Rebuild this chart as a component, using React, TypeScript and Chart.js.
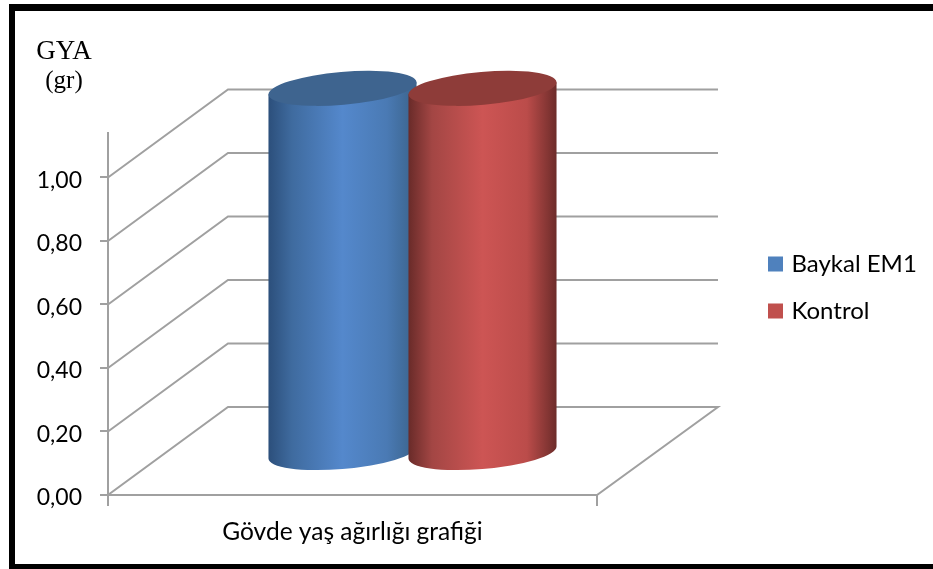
import React, { useEffect, useRef } from "react";
import { Chart, registerables } from "chart.js";

Chart.register(...registerables);

const categories = ["Gövde yaş ağırlığı grafiği"];
const seriesNames = ["Baykal EM1", "Kontrol"];
const baykalValues = [1.15];
const kontrolValues = [1.15];
const yTickValues = [0, 0.2, 0.4, 0.6, 0.8, 1.0];
const unitLines = ["GYA", "(gr)"];

const seriesFill = ["#4f81bd", "#c0504d"];
const seriesLid = ["#3e648f", "#8e3c39"];
const seriesShade = [
  ["#2c4f7b", "#3f6b9f", "#5488cc", "#4a7ab4", "#3a6289"],
  ["#692b29", "#a34644", "#cd5554", "#bb4c4a", "#6d2c2a"],
];
const shadeStops = [0, 0.16, 0.5, 0.8, 1];
const axisGrey = "#a0a0a0";

// Depth of the box the cylinders stand in: wall offset and cylinder-centre offset.
const WALL_DX = 120;
const WALL_DY = -88;
const BAR_DX = 60;
const BAR_DY = -41.5;

const boxPlugin = {
  id: "box3d",
  afterLayout(chart: any) {
    const lg = chart.legend;
    lg.left = 748.5;
    lg.right = 933;
    lg.top = 229;
    lg.bottom = 429;
    lg.width = 184.5;
    lg.height = 200;
  },
  beforeDatasetsDraw(chart: any) {
    const { ctx, scales } = chart;
    const { x, y } = scales;
    const left = x.left;
    const right = x.right;
    const floor = y.getPixelForValue(0);
    ctx.save();
    ctx.strokeStyle = axisGrey;
    ctx.lineWidth = 2;
    ctx.lineJoin = "miter";
    // Floor of the box
    ctx.beginPath();
    ctx.moveTo(left, floor);
    ctx.lineTo(right, floor);
    ctx.lineTo(right + WALL_DX + 1, floor + WALL_DY);
    ctx.lineTo(left + WALL_DX, floor + WALL_DY);
    ctx.closePath();
    ctx.stroke();
    // Side and back wall rules for every tick above the floor
    yTickValues.filter((v) => v > 0).forEach((v) => {
      const py = y.getPixelForValue(v);
      ctx.beginPath();
      ctx.moveTo(left, py);
      ctx.lineTo(left + WALL_DX, py + WALL_DY);
      ctx.lineTo(right + WALL_DX + 1, py + WALL_DY);
      ctx.stroke();
    });
    ctx.restore();
  },
  // The flat bars are replaced by the cylinders drawn below.
  beforeDatasetDraw() {
    return false;
  },
  afterDatasetsDraw(chart: any) {
    const { ctx } = chart;
    // Series order, so that each cylinder overlaps the one before it.
    chart.data.datasets.forEach((_: any, i: number) => {
      chart.getDatasetMeta(i).data.forEach((bar: any) => {
        const cx = bar.x + BAR_DX;
        const topY = bar.y + BAR_DY;
        const baseY = bar.base + BAR_DY;
        const halfW = bar.width / 2;
        const a = halfW * 1.004;
        const b = halfW * 0.222;
        const rot = (-4.9 * Math.PI) / 180;
        const tRight = Math.atan2(-b * Math.sin(rot), a * Math.cos(rot));
        const edgeX = a * Math.cos(tRight) * Math.cos(rot) - b * Math.sin(tRight) * Math.sin(rot);
        const edgeY = a * Math.cos(tRight) * Math.sin(rot) + b * Math.sin(tRight) * Math.cos(rot);

        const grad = ctx.createLinearGradient(cx - halfW, 0, cx + halfW, 0);
        seriesShade[i].forEach((c, k) => grad.addColorStop(shadeStops[k], c));

        ctx.save();
        ctx.beginPath();
        ctx.ellipse(cx, baseY, a, b, rot, tRight, tRight + Math.PI);
        ctx.lineTo(cx - edgeX, topY - edgeY);
        ctx.lineTo(cx + edgeX, topY + edgeY);
        ctx.closePath();
        ctx.fillStyle = grad;
        ctx.fill();

        ctx.beginPath();
        ctx.ellipse(cx, topY, a, b, rot, 0, Math.PI * 2);
        ctx.fillStyle = seriesLid[i];
        ctx.fill();
        ctx.restore();
      });
    });
  },
  afterDraw(chart: any) {
    const { ctx } = chart;
    ctx.save();
    ctx.fillStyle = "#000";
    ctx.textAlign = "center";
    ctx.textBaseline = "alphabetic";
    ctx.font = '27px "Liberation Serif"';
    ctx.fillText(unitLines[0], 64, 59);
    ctx.font = '25px "Liberation Serif"';
    ctx.fillText(unitLines[1], 64, 88);
    ctx.restore();
  },
};

export default function App() {
  const ref = useRef<HTMLCanvasElement | null>(null);

  useEffect(() => {
    const chart = new Chart(ref.current as HTMLCanvasElement, {
      type: "bar",
      data: {
        labels: categories,
        datasets: [
          { label: seriesNames[0], data: baykalValues, backgroundColor: seriesFill[0], borderColor: seriesFill[0], borderWidth: 7 },
          { label: seriesNames[1], data: kontrolValues, backgroundColor: seriesFill[1], borderColor: seriesFill[1], borderWidth: 7 },
        ],
      },
      plugins: [boxPlugin],
      options: {
        responsive: false,
        animation: false,
        layout: { padding: { left: 0, top: 133, right: 336, bottom: 0 } },
        datasets: { bar: { categoryPercentage: 0.5726, barPercentage: 1.057 } },
        scales: {
          x: {
            offset: true,
            afterFit: (s: any) => {
              s.height = 74;
            },
            border: { color: axisGrey, width: 2 },
            grid: { drawOnChartArea: false, color: axisGrey, lineWidth: 2, tickLength: 11, offset: true },
            ticks: { color: "#000", font: { family: "Lato", size: 24.5 }, padding: 11 },
          },
          y: {
            min: 0,
            max: 1.14,
            afterFit: (s: any) => {
              s.width = 108;
            },
            afterBuildTicks: (s: any) => {
              s.ticks = yTickValues.map((value) => ({ value }));
            },
            border: { color: axisGrey, width: 2 },
            grid: { drawOnChartArea: false, color: axisGrey, lineWidth: 2, tickLength: 8 },
            ticks: {
              color: "#000",
              font: { family: "Lato", size: 23 },
              padding: 18,
              labelOffset: 3,
              callback: (v: any) => Number(v).toFixed(2).replace(".", ","),
            },
          },
        },
        plugins: {
          title: { display: false },
          tooltip: { enabled: false },
          legend: {
            position: "chartArea",
            align: "start",
            labels: {
              boxWidth: 8,
              boxHeight: 8,
              padding: 23,
              color: "#000",
              font: { family: "Lato", size: 24 },
            },
          },
        },
      },
    } as any);
    return () => chart.destroy();
  }, []);

  return (
    <div style={{ position: "absolute", left: 0, top: 0, width: 933, height: 569, overflow: "hidden", background: "#fff" }}>
      <canvas ref={ref} width={933} height={569} style={{ display: "block" }} />
      <div
        style={{
          position: "absolute",
          left: 9,
          top: 4,
          right: 0,
          bottom: 0,
          boxSizing: "border-box",
          borderLeft: "6px solid #000",
          borderTop: "7px solid #000",
          borderBottom: "5px solid #000",
        }}
      />
    </div>
  );
}
